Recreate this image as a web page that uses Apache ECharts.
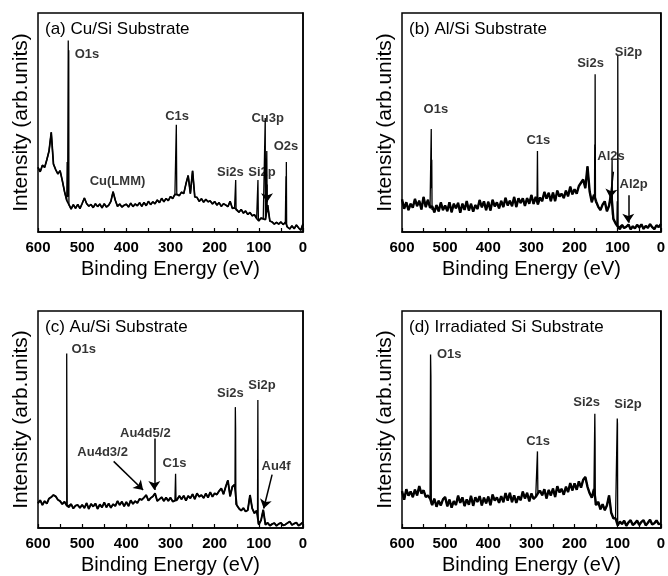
<!DOCTYPE html>
<html><head><meta charset="utf-8">
<script src="https://cdn.jsdelivr.net/npm/echarts@6/dist/echarts.min.js"></script>
<style>html,body{margin:0;padding:0;background:#fff}#c{width:668px;height:576px}</style>
</head><body><div id="c"></div><script>
// Energy grid: 600 -> 0 eV, 5 eV step (121 samples). Intensity in arbitrary units (0-100 of panel height).
const gridStart = 600, gridStep = 5;

// ---------- (a) Cu/Si ----------
const baseA = [
 29.5, 27.5, 30.5, 29.5, 33, 37, 45.5, 31, 28.5, 26.5,
 28, 23.5, 18.5, 14.5, 12.5, 10.5, 12.5, 10.8, 12.6, 10.7,
 13, 15.5, 13, 11.8, 12.6, 11.1, 12.9, 11.6, 12.8, 11.0,
 12.9, 11.4, 12.2, 14, 18.4, 14.5, 11.7, 12.8, 11.4, 12.2,
 12.7, 11.4, 13.2, 11.6, 12.8, 12.0, 13.4, 11.7, 13.5, 12.0,
 14.0, 12.5, 13.8, 12.9, 14.6, 13.4, 15.4, 13.8, 15.3, 14.3,
 16.2, 15.3, 17.2, 17, 16.6, 18.2, 17.5, 22, 25.8, 17.5,
 27.9, 16, 15.8, 14.0, 15.2, 13.6, 14.9, 13.8, 14.2, 12.8,
 13.9, 12.3, 13.4, 11.7, 12.9, 12.3, 11.6, 14, 10.8, 11,
 10.2, 9.0, 10.3, 8.6, 9.6, 8.0, 8.9, 7.4, 7.9, 6.2,
 5, 6.4, 6, 5.6, 12.3, 5, 4.6, 3.6, 4.4, 3.6,
 4.6, 3.4, 4.4, 2.2, 1.4, 2.8, 1.5, 3.2, 1.9, 0.8,
 3.8];
const peaksA = [
 [534, 32], [533, 16], [531.5, 87.4], [530.8, 20], [530.4, 83], [529.6, 13],
 [288, 17.5], [286.8, 49], [285.8, 17.5],
 [153.5, 10.8], [152.4, 23.7], [151.5, 10],
 [103, 6], [102, 23.7], [101, 5.2],
 [87, 6], [85.5, 52], [84, 8], [82, 37], [81, 9],
 [39.5, 4], [38.6, 25.5], [38.1, 8], [37.7, 32], [37, 2.5]];
const labelsA = [[489, 81, 'O1s'], [285, 52.9, 'C1s'], [420, 23.3, 'Cu(LMM)'], [164.5, 27.4, 'Si2s'],
 [92.8, 27.4, 'Si2p'], [80, 52, 'Cu3p'], [38.5, 39.2, 'O2s']];
const arrowsA = [[81.5, 21.7, 81.5, 13.6]];

// ---------- (b) Al/Si ----------
const baseB = [
 14.9, 10.6, 13.6, 10.0, 12.9, 11.1, 15.1, 11.8, 14.3, 10.3,
 16.0, 11.4, 14.7, 11.1, 11.8, 9.0, 12.3, 9.4, 13.5, 10.0,
 12.1, 9.5, 13.6, 9.0, 12.9, 10.8, 13.3, 8.8, 12.9, 10.1,
 14.1, 9.8, 12.9, 9.3, 12.3, 10.5, 14.6, 11.3, 14.0, 10.0,
 13.8, 9.8, 14.7, 11.7, 13.5, 10.8, 14.2, 11.4, 15.6, 12.1,
 14.3, 11.8, 16.0, 11.4, 15.4, 13.3, 15.4, 11.9, 15.5, 12.9,
 16.9, 12.8, 16.0, 12.6, 15.7, 14.1, 18.3, 15.2, 17.9, 14.1,
 18.0, 14.1, 18.9, 16.2, 17.5, 15.5, 18.9, 16.3, 20.7, 17.2,
 19.5, 17.5, 21, 22.5, 24, 20, 30, 18.5, 13.6, 17,
 14, 11.5, 10, 12.5, 14, 9.5, 12, 18, 6, 4,
 2.5, 1.3, 3.2, 1.8, 2.4, 3.4, 1.2, 2.6, 1.6, 3.3,
 2.0, 3.5, 1.4, 2.8, 1.9, 3.6, 2.2, 1.3, 3.1, 2.2,
 3.6];
const peaksB = [
 [533, 11], [532.2, 47], [531.6, 20], [531, 33], [530.3, 10],
 [287, 14], [286, 37], [285, 15],
 [153.8, 16], [153.2, 40], [152.7, 25], [152.3, 72], [151.5, 14],
 [114, 14], [113, 33], [112, 8],
 [102, 3], [101, 14], [100.5, 4], [99.8, 80.5], [99, 2]];
const labelsB = [[521.5, 56, 'O1s'], [284, 42, 'C1s'], [163, 76.8, 'Si2s'], [75, 82, 'Si2p'],
 [115.5, 34.4, 'Al2s'], [63, 21.7, 'Al2p']];
const arrowsB = [[110, 27.5, 117, 15.5], [75.5, 16.8, 75.5, 4.2]];

// ---------- (c) Au/Si ----------
const baseC = [
 11.4, 12.8, 10.6, 12.4, 11.2, 13.6, 14.2, 15.2, 14.6, 13,
 12.4, 11.0, 12.1, 10.4, 9.6, 11.0, 9.0, 10.3, 10.6, 9.3,
 10.7, 9.2, 11.5, 8.8, 11.1, 9.9, 11.3, 8.8, 10.9, 9.5,
 11.8, 9.5, 11.3, 9.3, 11.0, 10.1, 12.4, 10.6, 12.2, 10.0,
 12.0, 10.1, 12.8, 11.1, 12.4, 11.5, 13.4, 13.0, 14, 15.2,
 12.6, 13.8, 14.5, 16, 12.4, 13.3, 14.2, 12.4, 14.0, 12.5,
 14.0, 12.2, 12.6, 13.0, 14.8, 13.2, 14.9, 12.6, 14.8, 13.7,
 15.6, 13.3, 16.0, 14.4, 15.2, 13.8, 15.9, 14.0, 16.5, 14.4,
 16, 15.4, 17, 18.3, 15.6, 19, 22, 14.6, 19, 20,
 10.6, 9, 8, 9.2, 7.6, 8.2, 15.2, 9, 6.8, 8,
 1.5, 3.5, 8.4, 1.5, 2.4, 1.1, 1.8, 2.3, 1.0, 1.9,
 2.4, 1.2, 1.6, 2.3, 3, 1.4, 2.0, 2.5, 1.1, 1.8,
 2.6];
const peaksC = [
 [536, 11.5], [535, 80.4], [534.4, 35], [533.8, 10],
 [289.5, 13], [288.5, 25], [287.5, 12.5],
 [154, 19], [153.2, 55.7], [152.6, 45.8], [152, 11],
 [103, 6], [102.2, 59], [101.5, 2]];
const labelsC = [[496.6, 82.2, 'O1s'], [357, 43.5, 'Au4d5/2'], [453.6, 34.7, 'Au4d3/2'], [291, 29.9, 'C1s'],
 [164.5, 61.8, 'Si2s'], [92.8, 65.6, 'Si2p'], [61, 28.4, 'Au4f']];
const arrowsC = [[428.7, 30.7, 362, 17.5], [336.6, 41.3, 336.6, 17.5], [70, 24.6, 89, 9]];

// ---------- (d) Irradiated Si ----------
const baseD = [
 17.0, 13.0, 17.9, 14.9, 16.8, 14.2, 17.7, 15.0, 19.3, 15.9,
 17.4, 14.3, 15, 13.6, 10.5, 13.5, 9.8, 12.6, 10.4, 13.2,
 14.3, 10.0, 13.1, 9.4, 12.4, 10.6, 14.9, 11.6, 14.1, 10.1,
 13.2, 10.7, 14.8, 10.2, 14.2, 12.0, 14.7, 10.4, 14.0, 11.4,
 14.5, 10.5, 15.4, 12.6, 14.1, 11.6, 14.7, 11.9, 16.1, 12.6,
 16.2, 11.9, 15.1, 11.6, 14.6, 12.8, 16.8, 13.6, 16.2, 12.3,
 15.9, 13.4, 14.4, 16, 17.2, 15.1, 17.9, 13.6, 17.5, 15.0,
 18.2, 14.3, 19.3, 16.4, 18.0, 15.3, 19.0, 16.6, 20.7, 17.3,
 20.6, 17.6, 21.5, 18.6, 22.2, 23.5, 19, 16, 14, 18,
 10.6, 12, 8.6, 11, 8.2, 10.4, 15, 7, 4.5, 4.5,
 1.2, 3.0, 1.8, 3.4, 1.0, 2.6, 3.6, 1.4, 2.2, 3.4,
 1.4, 2.8, 3.6, 1.2, 2.4, 3.8, 1.6, 2.2, 3.5, 1.8,
 2];
const peaksD = [
 [535, 14], [533.8, 80], [533, 70], [532, 11],
 [287, 15], [286, 35.3], [285, 17],
 [154, 18], [153, 52.6], [152.4, 40], [151.8, 10.6],
 [102, 5], [101, 50.5], [100.5, 48], [100, 1.5]];
const labelsD = [[490.5, 79.8, 'O1s'], [284.5, 39.8, 'C1s'], [172, 57.9, 'Si2s'], [76, 57.1, 'Si2p']];
const arrowsD = [];

const panelTitles = ['(a) Cu/Si Substrate', '(b) Al/Si Substrate', '(c) Au/Si Substrate', '(d) Irradiated Si Substrate'];
const xTickStep = 100;

// ---------- build ----------
const FONT = "'Liberation Sans', Arial, Helvetica, sans-serif";
function basePoints(base) { return base.map((v, i) => [gridStart - gridStep * i, v]); }
function build(base, peaks) {
  return basePoints(base).concat(peaks).sort((a, b) => b[0] - a[0]);
}
const panels = [
  {base: baseA, peaks: peaksA, labels: labelsA, arrows: arrowsA, band: 1.7},
  {base: baseB, peaks: peaksB, labels: labelsB, arrows: arrowsB, band: 2.4},
  {base: baseC, peaks: peaksC, labels: labelsC, arrows: arrowsC, band: 1.9},
  {base: baseD, peaks: peaksD, labels: labelsD, arrows: arrowsD, band: 2.4}
];
const gridPos = [
  {left: 38, top: 13}, {left: 402, top: 13}, {left: 38, top: 311}, {left: 402, top: 311}
];
const option = {
  animation: false,
  backgroundColor: '#fff',
  title: panelTitles.map((t, i) => ({
    text: t, left: gridPos[i].left + 2, top: gridPos[i].top + 3,
    textStyle: {fontFamily: FONT, fontSize: 17, fontWeight: 'normal', color: '#000'}
  })),
  grid: gridPos.map(g => ({left: g.left, top: g.top, width: 265, height: 219, show: true,
    borderColor: '#000', borderWidth: 1.5, backgroundColor: 'transparent'})),
  xAxis: gridPos.map((g, i) => ({
    type: 'value', gridIndex: i, min: 0, max: 600, interval: xTickStep, inverse: true,
    axisLine: {lineStyle: {color: '#000', width: 1.5}},
    axisTick: {inside: true, length: 4, lineStyle: {color: '#000', width: 1.2}},
    minorTick: {show: true, splitNumber: 2, length: 4, lineStyle: {color: '#000', width: 1.2}},
    splitLine: {show: false}, minorSplitLine: {show: false},
    axisLabel: {fontFamily: FONT, fontSize: 15, fontWeight: 'bold', color: '#000', margin: 8},
    name: 'Binding Energy (eV)', nameLocation: 'middle', nameGap: 27,
    nameTextStyle: {fontFamily: FONT, fontSize: 20, color: '#000'}
  })),
  yAxis: gridPos.map((g, i) => ({
    type: 'value', gridIndex: i, min: 0, max: 100,
    axisLine: {show: true, lineStyle: {color: '#000', width: 1.5}},
    axisTick: {show: false}, axisLabel: {show: false}, splitLine: {show: false},
    name: 'Intensity (arb.units)', nameLocation: 'middle', nameGap: 6,
    nameTextStyle: {fontFamily: FONT, fontSize: 21, color: '#000'}
  })),
  series: []
};
panels.forEach((p, i) => {
  // noisy background drawn a bit heavier, like the dense noise band of the original spectra
  option.series.push({
    type: 'line', xAxisIndex: i, yAxisIndex: i, data: basePoints(p.base),
    symbol: 'none', lineStyle: {color: '#000', width: p.band}, silent: true, clip: true
  });
  option.series.push({
    type: 'line', xAxisIndex: i, yAxisIndex: i, data: build(p.base, p.peaks),
    symbol: 'none', lineStyle: {color: '#000', width: 1.3}, silent: true, clip: true
  });
  option.series.push({
    type: 'scatter', xAxisIndex: i, yAxisIndex: i, symbolSize: 1, silent: true,
    itemStyle: {color: 'rgba(0,0,0,0)'},
    data: p.labels.map(l => ({value: [l[0], l[1]], name: l[2]})),
    label: {show: true, position: 'inside', formatter: '{b}', color: '#000',
      fontFamily: FONT, fontSize: 13, fontWeight: 'bold'},
    markLine: {
      silent: true, symbol: ['none', 'arrow'], symbolSize: 9, animation: false,
      lineStyle: {color: '#000', width: 1.5, type: 'solid'}, label: {show: false},
      data: p.arrows.map(a => [{coord: [a[0], a[1]]}, {coord: [a[2], a[3]]}])
    }
  });
});
const chart = echarts.init(document.getElementById('c'), null, {renderer: 'canvas'});
chart.setOption(option);
</script></body></html>
